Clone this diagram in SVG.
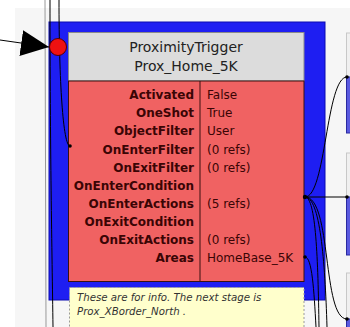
<svg xmlns="http://www.w3.org/2000/svg" width="350" height="327" viewBox="0 0 350 327">
<defs>
<style>
.lbl{font-family:"DejaVu Sans",sans-serif;font-size:12px;font-weight:bold;fill:#3a0505;text-anchor:end}
.val{font-family:"DejaVu Sans",sans-serif;font-size:12px;fill:#3a0505}
.hdr{font-family:"DejaVu Sans",sans-serif;font-size:14px;fill:#222;text-anchor:middle}
.note{font-family:"DejaVu Sans",sans-serif;font-size:10.2px;font-style:italic;fill:#333}
.wire{fill:none;stroke:#000;stroke-width:1}
.dot{fill:#000}
.side-g{fill:#f0f0f0;stroke:#c8c8c8;stroke-width:1}
.side-b{fill:#5a5ae0;stroke:#2a2aa0;stroke-width:1}
</style>
<marker id="arrow" markerWidth="28" markerHeight="26" refX="28" refY="13" orient="auto" markerUnits="userSpaceOnUse" viewBox="0 0 28 26">
<path d="M0,0 L28,13 L0,26 z" fill="#000"/>
</marker>
</defs>
<rect x="0" y="0" width="350" height="327" fill="#ffffff"/>
<rect x="15" y="8" width="335" height="319" fill="#f6f6f6"/>
<g id="background-lines">
<line x1="45" y1="0" x2="46" y2="327" stroke="#999" stroke-width="1"/>
</g>
<g id="side-nodes">
<rect class="side-g" x="346.5" y="33" width="10" height="44"/>
<rect class="side-b" x="346.5" y="77" width="10" height="56"/>
<rect class="side-g" x="346.5" y="153" width="10" height="44"/>
<rect class="side-b" x="346.5" y="197" width="10" height="58"/>
<rect class="side-g" x="346.5" y="273" width="10" height="46"/>
<rect class="side-b" x="346.5" y="319" width="10" height="20"/>
</g>
<g id="node-prox-home-5k">
<rect x="49" y="22" width="276" height="278" fill="#1e1ef2" stroke="#0a0ab0" stroke-width="1"/>
<rect x="68.5" y="32.5" width="235.5" height="48.5" fill="#dcdcdc" stroke="#8a8a8a" stroke-width="1"/>
<text class="hdr" x="186" y="52">ProximityTrigger</text>
<text class="hdr" x="186" y="71">Prox_Home_5K</text>
<rect x="68.5" y="81" width="235.5" height="200.5" fill="#f06262" stroke="#3a1010" stroke-width="1"/>
<line x1="200" y1="81" x2="200" y2="281.5" stroke="#3a1010" stroke-width="1"/>
<text class="lbl" x="194" y="99">Activated</text>
<text class="lbl" x="194" y="117">OneShot</text>
<text class="lbl" x="194" y="135">ObjectFilter</text>
<text class="lbl" x="194" y="153.5">OnEnterFilter</text>
<text class="lbl" x="194" y="171.5">OnExitFilter</text>
<text class="lbl" x="194" y="189.5">OnEnterCondition</text>
<text class="lbl" x="194" y="207.5">OnEnterActions</text>
<text class="lbl" x="194" y="225.5">OnExitCondition</text>
<text class="lbl" x="194" y="244">OnExitActions</text>
<text class="lbl" x="194" y="262">Areas</text>
<text class="val" x="207" y="99">False</text>
<text class="val" x="207" y="117">True</text>
<text class="val" x="207" y="135">User</text>
<text class="val" x="207" y="153.5">(0 refs)</text>
<text class="val" x="207" y="171.5">(0 refs)</text>
<text class="val" x="207" y="207.5">(5 refs)</text>
<text class="val" x="207" y="244">(0 refs)</text>
<text class="val" x="207" y="262">HomeBase_5K</text>
</g>
<g id="note">
<rect x="69.5" y="287.5" width="234.5" height="45" fill="#ffffcc" stroke="#999" stroke-width="1" stroke-dasharray="2,2"/>
<text class="note" x="77" y="300.5">These are for info. The next stage is</text>
<text class="note" x="77" y="315">Prox_XBorder_North .</text>
</g>
<g id="connectors">
<line class="wire" x1="0" y1="40" x2="49" y2="47" marker-end="url(#arrow)" stroke-width="1.2"/>
<path class="wire" d="M50,0 C50,150 52,250 53,327"/>
<path class="wire" d="M59,0 C59,80 63,146 70,146"/>
<circle class="dot" cx="70" cy="146" r="1.8"/>
<path class="wire" d="M305,197 C326,197 326,77 347,77"/>
<line class="wire" x1="305" y1="197" x2="347" y2="197"/>
<path class="wire" d="M305,197 C316,197 318,260 319,327"/>
<path class="wire" d="M305,197 C320,197 325,260 327,327"/>
<path class="wire" d="M305,197 C332,197 322,319 347,319"/>
<path class="wire" d="M305,257 C312,257 314,290 316,327"/>
<circle class="dot" cx="305" cy="197" r="2.2"/>
<circle class="dot" cx="305" cy="257" r="1.8"/>
<circle class="dot" cx="347" cy="77" r="1.8"/>
<circle class="dot" cx="347" cy="197" r="1.8"/>
<circle class="dot" cx="347" cy="319" r="1.8"/>
</g>
<g id="entry-point">
<circle cx="58" cy="47" r="8.5" fill="#ee1111" stroke="#550000" stroke-width="1"/>
</g>
</svg>
